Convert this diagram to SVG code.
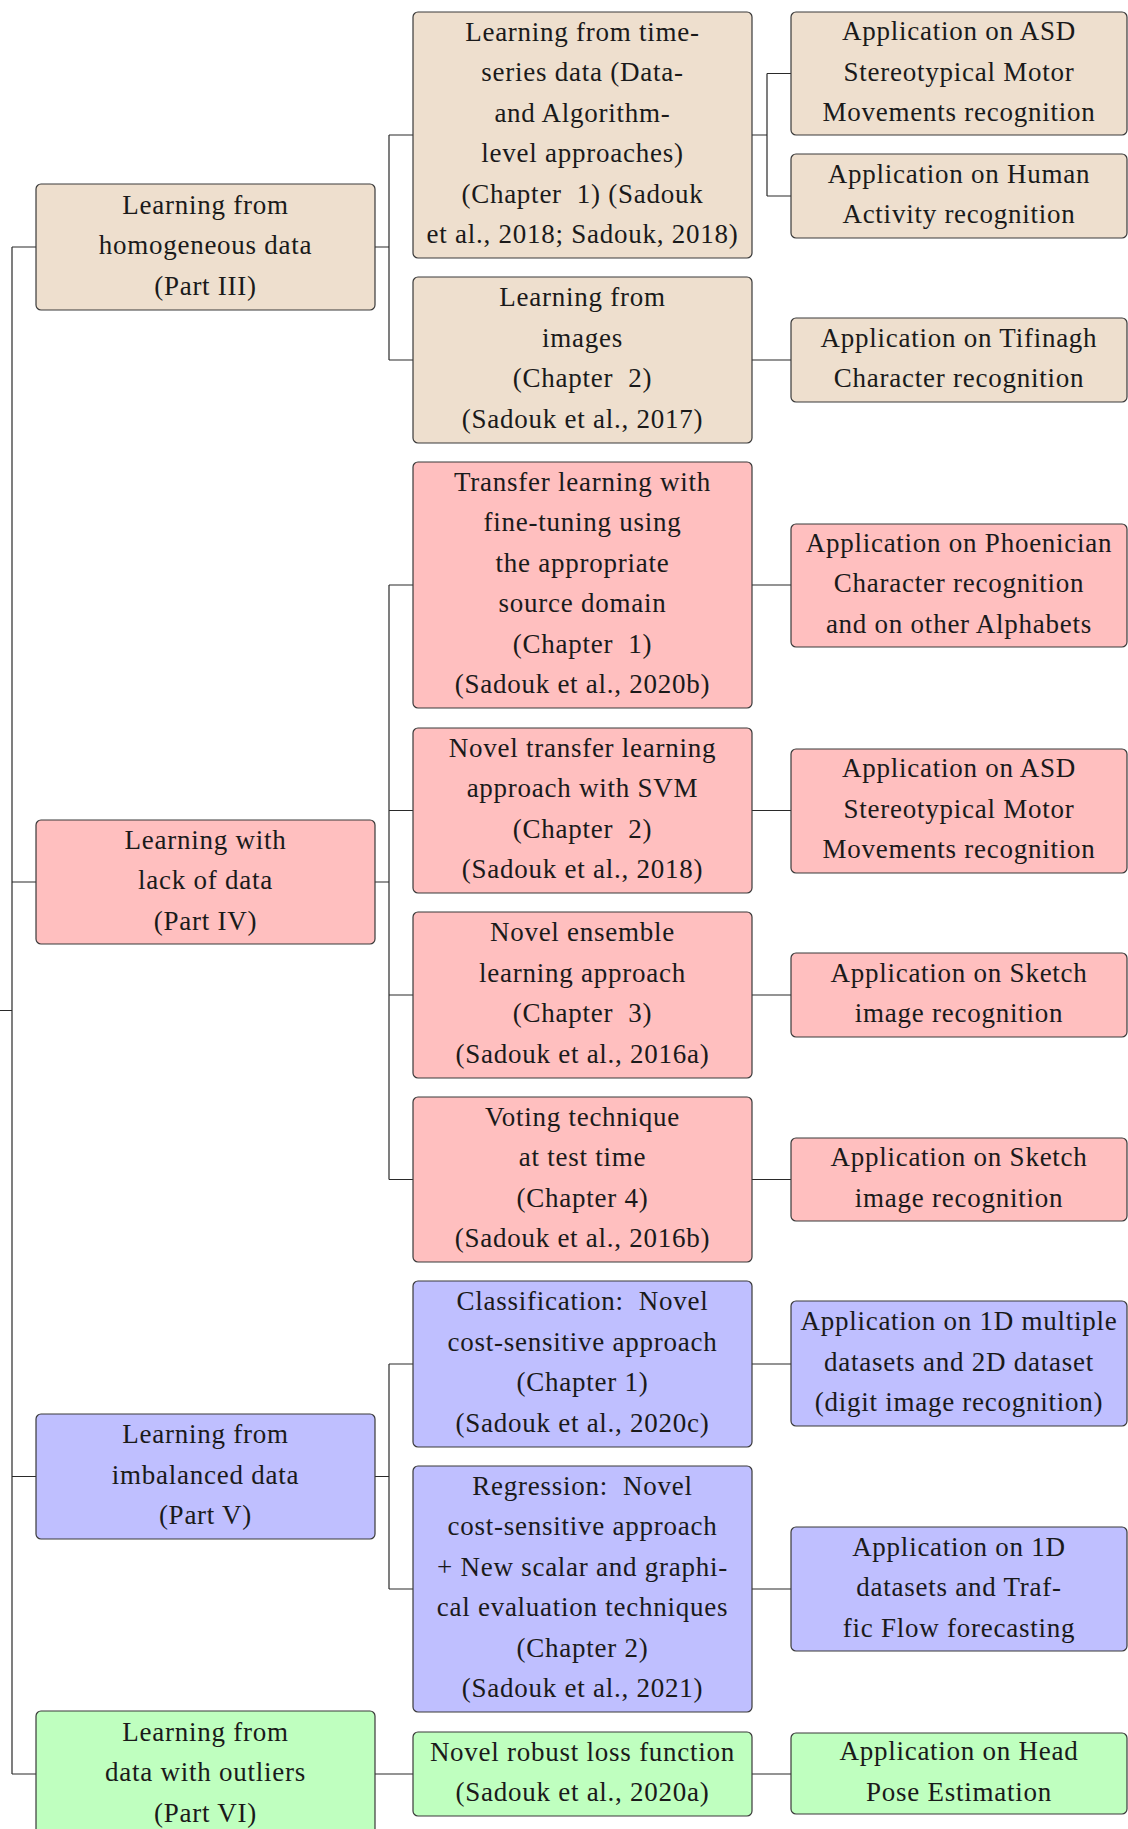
<svg xmlns="http://www.w3.org/2000/svg" width="1128" height="1829" viewBox="0 0 1128 1829">
<style>
  .box { stroke: #3a3a3a; stroke-width: 1.2; }
  .tan { fill: #EEDFCE; }
  .red { fill: #FFBFBF; }
  .blue { fill: #BFBFFF; }
  .green { fill: #BFFFBF; }
  text { font-family: "Liberation Serif", "DejaVu Serif", serif; font-size: 27px; letter-spacing: 0.75px; fill: #1a1a1a; text-anchor: middle; }
  .conn { fill: none; stroke: #2a2a2a; stroke-width: 1.2; }
</style>
<rect width="1128" height="1829" fill="#ffffff"/>

<g id="connectors" class="conn">
  <path d="M0 1010.5 H12 M12 247 V1774 M12 247 H36 M12 882 H36 M12 1476.5 H36 M12 1774 H36"/>
  <path d="M375 247 H389 M389 135 V360 M389 135 H413 M389 360 H413"/>
  <path d="M752 135 H767 M767 73.5 V196 M767 73.5 H791 M767 196 H791 M752 360 H791"/>
  <path d="M375 882 H389 M389 585 V1179.5 M389 585 H413 M389 810.5 H413 M389 995 H413 M389 1179.5 H413"/>
  <path d="M752 585 H791 M752 810.5 H791 M752 995 H791 M752 1179.5 H791"/>
  <path d="M375 1476.5 H389 M389 1364 V1589 M389 1364 H413 M389 1589 H413 M752 1364 H791 M752 1589 H791"/>
  <path d="M375 1774 H413 M752 1774 H791"/>
</g>

<!-- Parts -->
<g id="part3">
  <rect class="box tan" x="36" y="184" width="339" height="126" rx="5"/>
  <text x="205.5" y="213.5">Learning from</text>
  <text x="205.5" y="254">homogeneous data</text>
  <text x="205.5" y="294.5">(Part III)</text>
</g>
<g id="part4">
  <rect class="box red" x="36" y="820" width="339" height="124" rx="5"/>
  <text x="205.5" y="848.5">Learning with</text>
  <text x="205.5" y="889">lack of data</text>
  <text x="205.5" y="929.5">(Part IV)</text>
</g>
<g id="part5">
  <rect class="box blue" x="36" y="1414" width="339" height="125" rx="5"/>
  <text x="205.5" y="1443">Learning from</text>
  <text x="205.5" y="1483.5">imbalanced data</text>
  <text x="205.5" y="1524">(Part V)</text>
</g>
<g id="part6">
  <rect class="box green" x="36" y="1711" width="339" height="126" rx="5"/>
  <text x="205.5" y="1740.5">Learning from</text>
  <text x="205.5" y="1781">data with outliers</text>
  <text x="205.5" y="1821.5">(Part VI)</text>
</g>

<!-- Approaches -->
<g id="timeseries">
  <rect class="box tan" x="413" y="12" width="339" height="246" rx="5"/>
  <text x="582.5" y="40.75">Learning from time-</text>
  <text x="582.5" y="81.25">series data (Data-</text>
  <text x="582.5" y="121.75">and Algorithm-</text>
  <text x="582.5" y="162.25">level approaches)</text>
  <text x="582.5" y="202.75">(Chapter&#160; 1) (Sadouk</text>
  <text x="582.5" y="243.25">et al., 2018; Sadouk, 2018)</text>
</g>
<g id="images">
  <rect class="box tan" x="413" y="277" width="339" height="166" rx="5"/>
  <text x="582.5" y="306.25">Learning from</text>
  <text x="582.5" y="346.75">images</text>
  <text x="582.5" y="387.25">(Chapter&#160; 2)</text>
  <text x="582.5" y="427.75">(Sadouk et al., 2017)</text>
</g>
<g id="transfer">
  <rect class="box red" x="413" y="462" width="339" height="246" rx="5"/>
  <text x="582.5" y="490.75">Transfer learning with</text>
  <text x="582.5" y="531.25">fine-tuning using</text>
  <text x="582.5" y="571.75">the appropriate</text>
  <text x="582.5" y="612.25">source domain</text>
  <text x="582.5" y="652.75">(Chapter&#160; 1)</text>
  <text x="582.5" y="693.25">(Sadouk et al., 2020b)</text>
</g>
<g id="svm">
  <rect class="box red" x="413" y="728" width="339" height="165" rx="5"/>
  <text x="582.5" y="756.75">Novel transfer learning</text>
  <text x="582.5" y="797.25">approach with SVM</text>
  <text x="582.5" y="837.75">(Chapter&#160; 2)</text>
  <text x="582.5" y="878.25">(Sadouk et al., 2018)</text>
</g>
<g id="ensemble">
  <rect class="box red" x="413" y="912" width="339" height="166" rx="5"/>
  <text x="582.5" y="941.25">Novel ensemble</text>
  <text x="582.5" y="981.75">learning approach</text>
  <text x="582.5" y="1022.25">(Chapter&#160; 3)</text>
  <text x="582.5" y="1062.75">(Sadouk et al., 2016a)</text>
</g>
<g id="voting">
  <rect class="box red" x="413" y="1097" width="339" height="165" rx="5"/>
  <text x="582.5" y="1125.75">Voting technique</text>
  <text x="582.5" y="1166.25">at test time</text>
  <text x="582.5" y="1206.75">(Chapter 4)</text>
  <text x="582.5" y="1247.25">(Sadouk et al., 2016b)</text>
</g>
<g id="classification">
  <rect class="box blue" x="413" y="1281" width="339" height="166" rx="5"/>
  <text x="582.5" y="1310.25">Classification:&#160; Novel</text>
  <text x="582.5" y="1350.75">cost-sensitive approach</text>
  <text x="582.5" y="1391.25">(Chapter 1)</text>
  <text x="582.5" y="1431.75">(Sadouk et al., 2020c)</text>
</g>
<g id="regression">
  <rect class="box blue" x="413" y="1466" width="339" height="246" rx="5"/>
  <text x="582.5" y="1494.75">Regression:&#160; Novel</text>
  <text x="582.5" y="1535.25">cost-sensitive approach</text>
  <text x="582.5" y="1575.75">+ New scalar and graphi-</text>
  <text x="582.5" y="1616.25">cal evaluation techniques</text>
  <text x="582.5" y="1656.75">(Chapter 2)</text>
  <text x="582.5" y="1697.25">(Sadouk et al., 2021)</text>
</g>
<g id="robust">
  <rect class="box green" x="413" y="1732" width="339" height="84" rx="5"/>
  <text x="582.5" y="1760.75">Novel robust loss function</text>
  <text x="582.5" y="1801.25">(Sadouk et al., 2020a)</text>
</g>

<!-- Applications -->
<g id="app-asd-1">
  <rect class="box tan" x="791" y="12" width="336" height="123" rx="5"/>
  <text x="959" y="40">Application on ASD</text>
  <text x="959" y="80.5">Stereotypical Motor</text>
  <text x="959" y="121">Movements recognition</text>
</g>
<g id="app-har">
  <rect class="box tan" x="791" y="154" width="336" height="84" rx="5"/>
  <text x="959" y="182.75">Application on Human</text>
  <text x="959" y="223.25">Activity recognition</text>
</g>
<g id="app-tifinagh">
  <rect class="box tan" x="791" y="318" width="336" height="84" rx="5"/>
  <text x="959" y="346.75">Application on Tifinagh</text>
  <text x="959" y="387.25">Character recognition</text>
</g>
<g id="app-phoenician">
  <rect class="box red" x="791" y="524" width="336" height="123" rx="5"/>
  <text x="959" y="551.5">Application on Phoenician</text>
  <text x="959" y="592">Character recognition</text>
  <text x="959" y="632.5">and on other Alphabets</text>
</g>
<g id="app-asd-2">
  <rect class="box red" x="791" y="749" width="336" height="124" rx="5"/>
  <text x="959" y="777">Application on ASD</text>
  <text x="959" y="817.5">Stereotypical Motor</text>
  <text x="959" y="858">Movements recognition</text>
</g>
<g id="app-sketch-1">
  <rect class="box red" x="791" y="953" width="336" height="84" rx="5"/>
  <text x="959" y="981.75">Application on Sketch</text>
  <text x="959" y="1022.25">image recognition</text>
</g>
<g id="app-sketch-2">
  <rect class="box red" x="791" y="1138" width="336" height="83" rx="5"/>
  <text x="959" y="1166.25">Application on Sketch</text>
  <text x="959" y="1206.75">image recognition</text>
</g>
<g id="app-1d-multiple">
  <rect class="box blue" x="791" y="1301" width="336" height="125" rx="5"/>
  <text x="959" y="1330">Application on 1D multiple</text>
  <text x="959" y="1370.5">datasets and 2D dataset</text>
  <text x="959" y="1411">(digit image recognition)</text>
</g>
<g id="app-traffic">
  <rect class="box blue" x="791" y="1527" width="336" height="124" rx="5"/>
  <text x="959" y="1555.5">Application on 1D</text>
  <text x="959" y="1596">datasets and Traf-</text>
  <text x="959" y="1636.5">fic Flow forecasting</text>
</g>
<g id="app-headpose">
  <rect class="box green" x="791" y="1733" width="336" height="81" rx="5"/>
  <text x="959" y="1760.25">Application on Head</text>
  <text x="959" y="1800.75">Pose Estimation</text>
</g>
</svg>
